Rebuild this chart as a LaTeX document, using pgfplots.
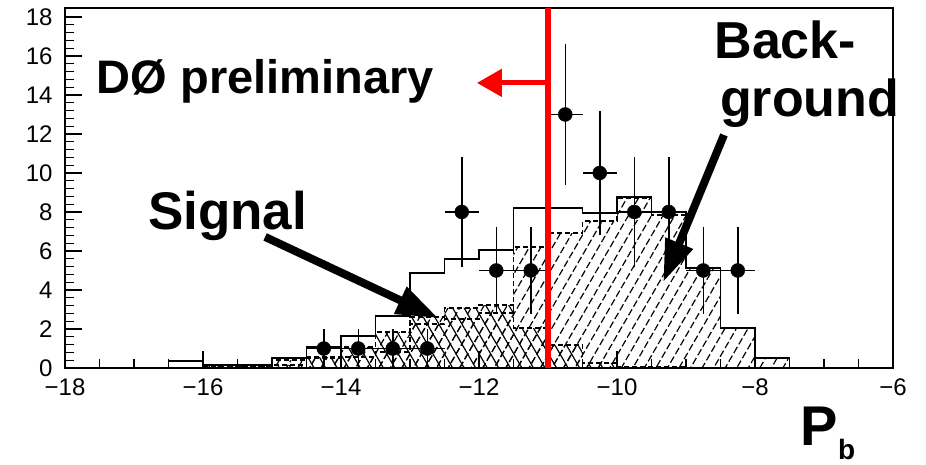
\documentclass[border=0pt]{standalone}
\usepackage{pgfplots}
\pgfplotsset{compat=1.18}
\usepackage{fontspec}
\setmainfont{Liberation Sans}
\usetikzlibrary{patterns.meta,arrows.meta}

\begin{document}
\begin{tikzpicture}
\begin{axis}[
  name=ax,
  at={(0,0)}, anchor=south west,
  scale only axis, width=828pt, height=360pt,
  xmin=-18, xmax=-6, ymin=0, ymax=18.46,
  xtick={-18,-16,...,-6},
  xticklabels={−18,−16,−14,−12,−10,−8,−6},
  ytick={0,2,...,18},
  minor x tick num=3, minor y tick num=4,
  tick pos=left, tick align=inside,
  major tick length=17pt, minor tick length=9pt,
  axis line style={line width=1.5pt},
  every tick/.style={line width=1.3pt, black},
  /pgf/number format/assume math mode=true,
  tick label style={font=\fontsize{24}{26}\selectfont},
  yticklabel style={xshift=-9pt},
  xticklabel style={yshift=-7pt},
  clip=false,
]
% background (hatched)
\addplot[const plot mark left, draw=black, line width=1.2pt, dash pattern=on 5pt off 3pt,
  pattern={Lines[angle=60,distance=10pt,line width=1.2pt]}, pattern color=black]
coordinates {(-16.0,0.05) (-15.5,0.1) (-15.0,0.41) (-14.5,0.51) (-14.0,0.56) (-13.5,0.82)
 (-13.0,2.26) (-12.5,2.51) (-12.0,2.82) (-11.5,6.2) (-11.0,6.92) (-10.5,7.54)
 (-10.0,8.72) (-9.5,7.85) (-9.0,5.13) (-8.5,2.05) (-8.0,0.51) (-7.5,0.51)} \closedcycle;
% signal (cross-hatched)
\addplot[const plot mark left, draw=none,
  pattern={Lines[angle=120,distance=10pt,line width=1.2pt]}, pattern color=black]
coordinates {(-16.0,0.1) (-15.5,0.1) (-15.0,0.15) (-14.5,0.56) (-14.0,1.08) (-13.5,1.85)
 (-13.0,2.62) (-12.5,3.08) (-12.0,3.23) (-11.5,2.05) (-11.0,1.18) (-10.5,0.26)
 (-10.0,0.05) (-9.5,0.05) (-9.0,0.05)} \closedcycle;
\addplot[const plot mark left, draw=black, line width=1.2pt, dash pattern=on 5pt off 3pt,
  pattern={Lines[angle=60,distance=10pt,line width=1.2pt]}, pattern color=black]
coordinates {(-16.0,0.1) (-15.5,0.1) (-15.0,0.15) (-14.5,0.56) (-14.0,1.08) (-13.5,1.85)
 (-13.0,2.62) (-12.5,3.08) (-12.0,3.23) (-11.5,2.05) (-11.0,1.18) (-10.5,0.26)
 (-10.0,0.05) (-9.5,0.05) (-9.0,0.05)} \closedcycle;
% total (solid outline)
\addplot[const plot mark left, draw=black, line width=1.5pt]
coordinates {(-16.5,0.36) (-16.0,0.15) (-15.5,0.15) (-15.0,0.51) (-14.5,1.08) (-14.0,1.64)
 (-13.5,2.67) (-13.0,4.87) (-12.5,5.59) (-12.0,6.05) (-11.5,8.2) (-11.0,8.2)
 (-10.5,7.95) (-10.0,8.77) (-9.5,8.0) (-9.0,5.13) (-8.5,2.05) (-8.0,0.51) (-7.5,0.51)} \closedcycle;
% data
\addplot[only marks, mark=*, mark size=7pt, black,
  error bars/.cd, x dir=both, x explicit, y dir=both, y explicit,
  error mark=none, error bar style={line width=1.5pt}]
table[x=x, y=y, x error=ex, y error=ey] {
x y ex ey
-14.25 1 0.25 1.0
-13.75 1 0.25 1.0
-13.25 1 0.25 1.0
-12.75 1 0.25 1.0
-12.25 8 0.25 2.83
-11.75 5 0.25 2.24
-11.25 5 0.25 2.24
-10.75 13 0.25 3.61
-10.25 10 0.25 3.16
-9.75 8 0.25 2.83
-9.25 8 0.25 2.83
-8.75 5 0.25 2.24
-8.25 5 0.25 2.24
};
% cut line
\addplot[red, line width=6pt] coordinates {(-11,0) (-11,18.46)};
\draw[red, line width=5pt, -{Triangle[length=25pt,width=27pt]}] (axis cs:-11,14.62) -- (axis cs:-12.03,14.62);
% annotation arrows
\draw[black, line width=8pt, -{Triangle[length=42pt,width=28pt]}] (axis cs:-15.1,6.72) -- (axis cs:-12.59,2.56);
\draw[black, line width=8pt, -{Triangle[length=42pt,width=28pt]}] (axis cs:-8.45,11.95) -- (axis cs:-9.33,4.41);
% texts
\node[anchor=base west, inner sep=0, font=\bfseries\fontsize{47}{50}\selectfont] at (axis cs:-17.54,14.1) {DØ preliminary};
\node[anchor=base west, inner sep=0, font=\bfseries\fontsize{53}{56}\selectfont] at (axis cs:-16.8,7.08) {Signal};
\node[anchor=base west, inner sep=0, font=\bfseries\fontsize{52}{56}\selectfont] at (axis cs:-8.59,15.85) {Back-};
\node[anchor=base west, inner sep=0, font=\bfseries\fontsize{52}{56}\selectfont] at (axis cs:-8.51,12.92) {ground};
\node[anchor=base west, inner sep=0, font=\bfseries\fontsize{56}{60}\selectfont] at (axis cs:-7.35,-3.95) {P};
\node[anchor=base west, inner sep=0, font=\bfseries\fontsize{28}{30}\selectfont] at (axis cs:-6.80,-4.68) {b};
\end{axis}
\pgfresetboundingbox
\path[use as bounding box] (-65pt,-96pt) rectangle (861pt,368pt);
\end{tikzpicture}
\end{document}
